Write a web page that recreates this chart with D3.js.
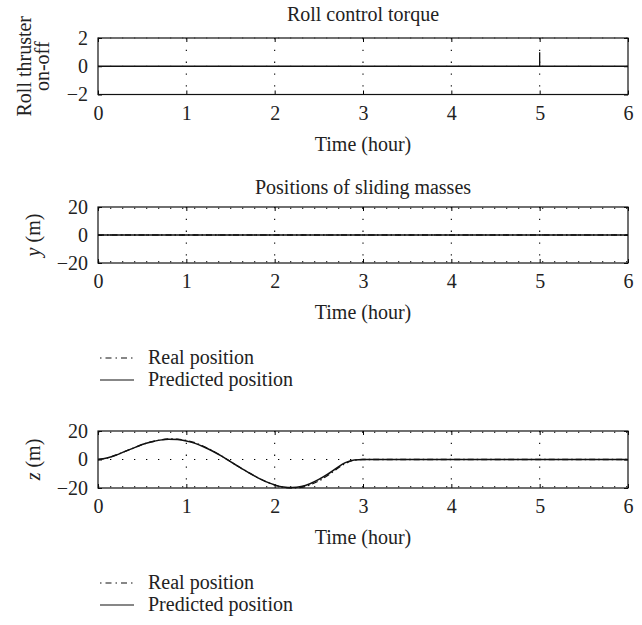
<!DOCTYPE html>
<html>
<head>
<meta charset="utf-8">
<script src="https://cdn.jsdelivr.net/npm/d3@7"></script>
<style>
  body { margin: 0; background: #fff; }
  svg { font-family: "Liberation Serif", "Times New Roman", serif; }
</style>
</head>
<body>
<div id="chart"></div>
<script>
// x ticks shared by the three panels
var timeTicks = [0, 1, 2, 3, 4, 5, 6];

// roll thruster on-off (time in hours)
var rollTime  = [0, 5, 5, 5, 6];
var rollValue = [0, 0, 1, 0, 0];
var rollTicks = [-2, 0, 2];

// y position of sliding masses
var yTime      = [0, 6];
var yReal      = [0, 0];
var yPredicted = [0, 0];

// z position of sliding masses
var zTime      = [0, 0.1, 0.2, 0.3, 0.4, 0.5, 0.6, 0.7, 0.8, 0.9, 1.0, 1.1, 1.2, 1.3, 1.4, 1.5, 1.6, 1.7, 1.8, 1.9, 2.0,
                  2.1, 2.2, 2.3, 2.4, 2.5, 2.6, 2.7, 2.8, 2.9, 3.0, 4.0, 5.0, 6.0];
var zPredicted = [0, 1, 3, 5.5, 8, 10.5, 12.3, 13.6, 14.2, 14, 13, 11.3, 8.8, 5.8, 2.3, -1.5, -5.3, -9, -12.5, -15.5, -17.8,
                  -19.3, -19.7, -19, -17, -14, -10.3, -6, -2.2, -0.3, 0, 0, 0, 0];
var zReal      = [0, 1, 3, 5.5, 8, 10.5, 12.3, 13.7, 14.4, 14.3, 13.4, 11.7, 9.1, 6, 2.4, -1.5, -5.3, -9, -12.5, -15.5, -17.9,
                  -19.5, -20, -19.6, -17.8, -15, -11.2, -6.8, -2.8, -0.5, 0, 0, 0, 0];
var posTicks = [-20, 0, 20];

var legendLabels = ["Real position", "Predicted position"];

var W = 642, H = 625;
var left = 98, right = 628;

var svg = d3.select("#chart")
    .append("svg")
        .attr("width", W)
        .attr("height", H);

var fs = 20;

function drawPanel(p) {
    var g = svg.append("g")
        .attr("transform", "translate(0," + p.top + ")");
    var h = p.bottom - p.top;

    var x = d3.scaleLinear().domain([0, 6]).range([left, right]);
    var y = d3.scaleLinear().domain(p.yDomain).range([h, 0]);

    // dotted grid
    g.selectAll(".vgrid")
        .data(timeTicks.slice(1, -1))
        .enter().append("line")
            .attr("x1", d => x(d)).attr("x2", d => x(d))
            .attr("y1", 0).attr("y2", h)
            .attr("stroke", "#000")
            .attr("stroke-width", 1.1)
            .attr("stroke-dasharray", "1.3,10.5");
    g.selectAll(".hgrid")
        .data(p.yTicks)
        .enter().append("line")
            .attr("x1", left).attr("x2", right)
            .attr("y1", d => y(d)).attr("y2", d => y(d))
            .attr("stroke", "#000")
            .attr("stroke-width", p.edgeDots ? 1.1 : 0.6)
            .attr("stroke-dasharray", "1.3,10.7")
            .attr("transform", d => (p.edgeDots && d === p.yDomain[1]) ? "translate(0,1.2)" :
                                    (p.edgeDots && d === p.yDomain[0]) ? "translate(0,-1.2)" : null);

    // axes
    g.append("g")
        .attr("transform", "translate(0," + h + ")")
        .call(d3.axisBottom(x).tickValues(timeTicks).tickSize(-4).tickPadding(11)
            .tickFormat(d3.format("d")));
    g.append("g")
        .attr("transform", "translate(" + left + ",0)")
        .call(d3.axisLeft(y).tickValues(p.yTicks).tickSize(-4).tickPadding(10)
            .tickFormat(d => d < 0 ? "\u2212" + Math.abs(d) : d));
    g.append("g").call(d3.axisTop(x).tickValues(timeTicks).tickSize(-4).tickFormat(""));
    g.append("g").attr("transform", "translate(" + right + ",0)")
        .call(d3.axisRight(y).tickValues(p.yTicks).tickSize(-4).tickFormat(""));
    g.selectAll(".domain").remove();
    g.selectAll(".tick line").attr("stroke", "#000").attr("stroke-width", 1);
    g.selectAll(".tick text")
        .style("font-family", "Liberation Serif, serif")
        .style("font-size", fs + "px")
        .attr("fill", "#222");

    // frame
    g.append("rect")
        .attr("x", left).attr("y", 0)
        .attr("width", right - left).attr("height", h)
        .attr("fill", "none")
        .attr("stroke", "#111")
        .attr("stroke-width", 1.2);

    // series
    p.series.forEach(function(s) {
        var line = d3.line()
            .x((d, i) => x(s.t[i]))
            .y(d => y(d))
            .curve(s.curve || d3.curveLinear);
        g.append("path")
            .datum(s.v)
            .attr("d", line)
            .attr("fill", "none")
            .attr("stroke", "#111")
            .attr("stroke-width", s.width || 1.5)
            .attr("stroke-dasharray", s.dash || null);
    });

    // title
    if (p.title) {
        g.append("text")
            .attr("x", (left + right) / 2)
            .attr("y", p.titleY)
            .attr("text-anchor", "middle")
            .style("font-size", fs + "px")
            .attr("fill", "#222")
            .text(p.title);
    }

    // x label
    g.append("text")
        .attr("x", (left + right) / 2)
        .attr("y", h + 56)
        .attr("text-anchor", "middle")
        .style("font-size", fs + "px")
        .attr("fill", "#222")
        .text("Time (hour)");

    // y label
    var yl = g.append("text")
        .attr("transform", "translate(" + p.ylabelX + "," + (h / 2) + ") rotate(-90)")
        .attr("text-anchor", "middle")
        .style("font-size", fs + "px")
        .attr("fill", "#222");
    p.ylabel(yl);

    // legend
    if (p.legend) {
        legendLabels.forEach(function(lab, i) {
            var ly = h + 101 + i * 22;
            g.append("line")
                .attr("x1", 100).attr("x2", 134)
                .attr("y1", ly - 6).attr("y2", ly - 6)
                .attr("stroke", "#111")
                .attr("stroke-width", 1.2)
                .attr("stroke-dasharray", i === 0 ? "1.5,4,6,4" : null);
            g.append("text")
                .attr("x", 148)
                .attr("y", ly)
                .style("font-size", fs + "px")
                .attr("fill", "#222")
                .text(lab);
        });
    }
}

drawPanel({
    top: 38, bottom: 94.5,
    yDomain: [-2, 2], yTicks: rollTicks,
    title: "Roll control torque", titleY: -17,
    ylabelX: 0,
    ylabel: function(t) {
        t.append("tspan").attr("x", 0).attr("y", 31).text("Roll thruster");
        t.append("tspan").attr("x", 0).attr("y", 49).text("on-off");
    },
    series: [{ t: rollTime, v: rollValue, width: 1.3 }]
});

drawPanel({
    top: 207, bottom: 263,
    yDomain: [-20, 20], yTicks: posTicks, edgeDots: true,
    title: "Positions of sliding masses", titleY: -13,
    ylabelX: 40,
    ylabel: function(t) {
        t.append("tspan").style("font-style", "italic").text("y");
        t.append("tspan").text(" (m)");
    },
    legend: true,
    series: [
        { t: yTime, v: yPredicted },
        { t: yTime, v: yReal, dash: "6,3,1.5,3" }
    ]
});

drawPanel({
    top: 431, bottom: 488,
    yDomain: [-20, 20], yTicks: posTicks, edgeDots: true,
    ylabelX: 40,
    ylabel: function(t) {
        t.append("tspan").style("font-style", "italic").text("z");
        t.append("tspan").text(" (m)");
    },
    legend: true,
    series: [
        { t: zTime, v: zReal, dash: "6,3,1.5,3", width: 1.3, curve: d3.curveMonotoneX },
        { t: zTime, v: zPredicted, curve: d3.curveMonotoneX }
    ]
});
</script>
</body>
</html>
